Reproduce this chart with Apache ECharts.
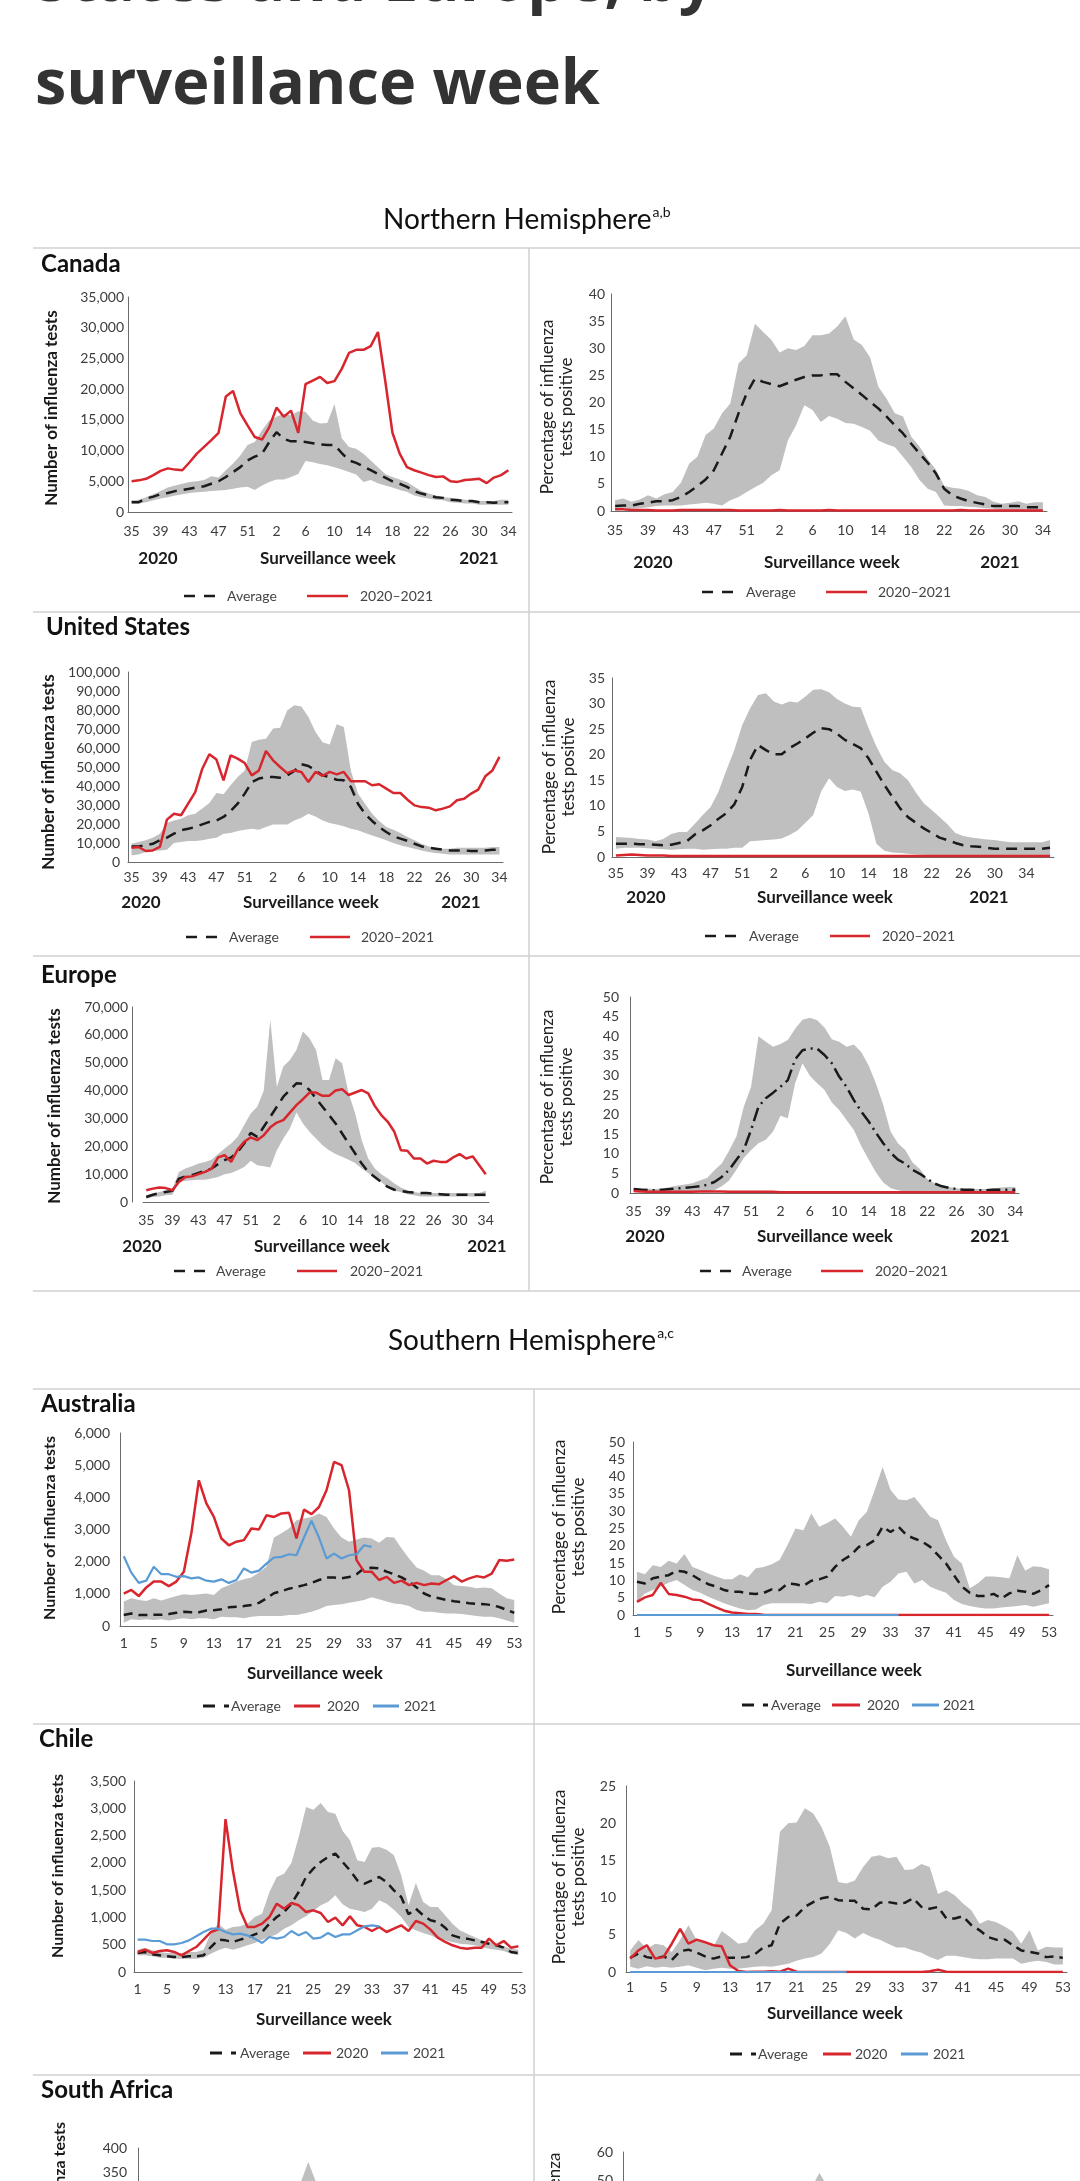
<!DOCTYPE html>
<html><head><meta charset="utf-8">
<script src="https://cdn.jsdelivr.net/npm/echarts@6.0.0/dist/echarts.min.js"></script>
<style>html,body{margin:0;padding:0;background:#fff}#main{width:1080px;height:2181px}</style>
</head><body><div id="main"></div>
<script>
// ---------- categories (surveillance weeks) ----------
const weeksN = [35,36,37,38,39,40,41,42,43,44,45,46,47,48,49,50,51,52,53,1,2,3,4,5,6,7,8,9,10,11,12,13,14,15,16,17,18,19,20,21,22,23,24,25,26,27,28,29,30,31,32,33,34];
const weeksUS = [35,36,37,38,39,40,41,42,43,44,45,46,47,48,49,50,51,52,53,1,2,3,4,5,6,7,8,9,10,11,12,13,14,15,16,17,18,19,20,21,22,23,24,25,26,27,28,29,30,31,32,33,34,35,36,37];
const weeksS = [1,2,3,4,5,6,7,8,9,10,11,12,13,14,15,16,17,18,19,20,21,22,23,24,25,26,27,28,29,30,31,32,33,34,35,36,37,38,39,40,41,42,43,44,45,46,47,48,49,50,51,52,53];

// ---------- Canada ----------
const canNumAvg = [1600,1600,2200,2500,2900,3100,3400,3600,3800,4000,4200,4600,5000,5700,6500,7300,8400,9000,9500,11400,13000,11900,11500,11500,11400,11200,11000,10900,10900,9600,8400,8000,7400,6800,6200,5600,5000,4600,4100,3400,3000,2700,2400,2300,2000,1900,1800,1800,1600,1600,1500,1600,1600];
const canNumLow = [1400,1400,1600,1900,2200,2400,2700,2900,3100,3200,3300,3400,3500,3600,3800,4000,4100,3600,4300,4900,5300,5300,5700,6200,8300,8100,7800,7600,7300,6900,6500,6100,4900,5200,4700,4300,4000,3600,3300,2700,2400,2200,2000,1900,1600,1500,1400,1400,1200,1200,1200,1200,1200];
const canNumHigh = [1900,2000,2400,2900,3400,4000,4300,4600,4900,5000,5200,5800,5600,6800,7900,9200,10900,11400,13300,14900,15500,16000,15700,16400,16300,14900,14400,14500,17600,12000,10600,10300,9500,8400,7300,6200,5700,5300,4900,4100,3400,3000,2700,2400,2300,2200,2000,1900,1800,1800,1800,2000,2000];
const canNum2021 = [5000,5150,5400,6000,6700,7100,6900,6800,8100,9500,10600,11700,12900,18800,19700,16100,14100,12200,11800,13800,17000,15500,16500,12900,20800,21400,22000,21000,21300,23300,25900,26400,26400,27000,29300,21400,12900,9500,7300,6800,6400,6000,5700,5800,5000,4900,5200,5300,5400,4700,5600,6000,6800];
const canPctAvg = [0.9,1.0,1.0,1.35,1.5,1.8,1.8,2.0,2.6,3.5,4.6,5.8,7.5,10.6,13.7,18.0,21.7,24.4,23.8,23.4,23.0,23.6,24.2,24.7,25.0,25.0,25.2,25.2,23.8,22.6,21.4,20.1,18.9,17.4,15.8,14.3,12.4,10.6,8.9,6.9,4.1,2.9,2.3,1.8,1.5,1.2,0.9,0.9,0.9,0.9,0.7,0.7,0.7];
const canPctLow = [0.1,0.25,0.4,0.5,0.7,0.9,1.0,1.0,1.0,1.2,1.35,1.5,1.35,1.0,2.0,2.6,3.5,4.4,5.2,6.6,7.5,13.0,15.8,19.5,18.6,16.4,17.5,17.0,16.2,16.1,15.5,14.8,13.0,12.3,11.8,10.0,8.1,5.7,4.1,3.5,1.0,0.9,0.9,0.8,0.7,0.5,0.4,0.25,0.25,0.25,0.25,0.25,0.1];
const canPctHigh = [2.0,2.3,1.7,2.1,2.9,2.3,3.1,3.5,5.2,8.7,10.0,14.0,15.2,18.0,19.8,27.2,28.7,34.5,33.0,31.5,29.2,30.0,29.7,30.4,32.4,32.4,32.7,34.0,35.9,31.6,30.6,28.3,22.9,20.7,18.0,17.4,13.7,11.9,9.6,7.6,4.6,4.3,4.1,3.7,2.9,2.6,1.7,1.35,1.5,1.8,1.35,1.6,1.6];
const canPct2021 = [0.3,0.3,0.2,0.2,0.2,0.1,0.1,0.1,0.2,0.2,0.2,0.2,0.2,0.2,0.2,0.1,0.1,0.1,0.1,0.1,0.2,0.1,0.1,0.1,0.1,0.1,0.2,0.1,0.1,0.1,0.1,0.1,0.1,0.1,0.1,0.1,0.1,0.1,0.1,0.1,0.1,0.1,0.2,0.1,0.1,0.1,0.1,0.1,0.1,0.1,0.1,0.1,0.1];

// ---------- United States ----------
const usNumAvg = [8200,8200,8800,9600,11400,12800,14900,16700,17500,18400,19800,21100,21900,23700,26800,30700,36000,42100,43900,44700,44700,44400,45600,47900,51500,50500,48200,45600,44700,43300,43000,39500,30700,25400,21600,18400,15800,13500,12300,11100,9600,8200,7500,7000,6500,6100,6100,6100,5800,5800,6100,6500,6500];
const usNumLow = [3500,4000,5300,5800,6100,6500,10000,10500,11100,11100,11400,12300,12800,14900,15300,16300,17000,17500,17000,18400,19800,19800,19800,21900,23300,25400,24000,21900,20500,19800,18800,17500,16700,15300,14000,12800,11400,10000,8800,7900,7000,6100,5300,4700,4400,4000,4000,4000,4000,4000,4000,4000,4000];
const usNumHigh = [9600,10500,11400,12800,14900,20500,21900,22800,24600,25400,28100,31100,36300,35600,40400,44700,48200,63200,64400,64900,70200,70700,79800,82500,81900,76300,68400,63000,61900,72500,71100,48000,36000,30700,25400,21600,18400,17000,15300,13200,11400,9600,8200,7500,7000,7000,7500,7500,7500,7500,7500,7900,7900];
const usNum2021 = [7500,7900,5800,6100,7900,22300,25400,24600,30700,36800,49100,56700,53900,43000,56100,54400,52100,45600,48200,58400,53500,50000,46800,48200,47400,42100,47400,45300,47400,46100,47400,42500,42500,42500,40400,40900,38600,36300,36300,32800,29800,28900,28600,27200,28100,29300,32500,33300,36000,38100,45100,48200,55300];
const usPctAvg = [2.6,2.6,2.6,2.5,2.5,2.4,2.3,2.4,2.75,3.1,4.4,5.2,6.2,7.5,8.6,10.3,13.7,19.0,21.9,20.9,20.1,20.1,21.3,22.2,23.2,24.3,25.2,25.0,24.1,22.9,22.1,21.3,19.3,16.7,14.1,11.8,9.5,7.8,6.7,5.6,4.7,3.8,3.3,2.75,2.3,2.1,2.0,1.8,1.6,1.6,1.6,1.6,1.6,1.6,1.6,1.8];
const usPctLow = [1.6,1.8,1.8,1.8,1.7,1.6,1.5,1.4,1.5,1.6,1.6,1.4,1.5,1.6,1.6,1.8,1.8,3.1,3.2,3.3,3.4,3.6,4.3,5.2,6.7,8.2,12.8,15.4,13.7,12.9,13.2,12.8,8.5,2.6,1.2,0.9,0.8,0.65,0.5,0.45,0.4,0.3,0.3,0.3,0.3,0.3,0.3,0.3,0.3,0.3,0.3,0.3,0.3,0.3,0.3,0.3];
const usPctHigh = [3.9,3.8,3.7,3.5,3.4,3.1,3.5,4.5,4.9,4.9,6.5,8.2,9.8,12.8,17.0,20.9,25.8,29.1,31.7,32.0,30.4,29.8,30.4,30.2,31.4,32.7,32.8,32.2,30.9,30.0,29.4,29.3,25.2,21.6,18.6,17.0,16.4,15.0,12.6,10.5,9.2,7.8,6.4,4.7,4.1,3.8,3.6,3.4,3.3,3.1,2.9,2.9,2.9,2.9,2.9,3.3];
const usPct2021 = [0.3,0.4,0.5,0.4,0.3,0.3,0.3,0.2,0.2,0.2,0.2,0.2,0.2,0.2,0.2,0.2,0.2,0.2,0.2,0.2,0.2,0.2,0.2,0.2,0.2,0.2,0.2,0.2,0.2,0.2,0.2,0.2,0.2,0.2,0.2,0.2,0.2,0.2,0.2,0.2,0.2,0.2,0.2,0.2,0.2,0.2,0.2,0.2,0.2,0.2,0.2,0.2,0.2,0.2,0.2,0.2];

// ---------- Europe ----------
const euNumAvg = [1800,2600,3200,3600,4000,8400,9200,9600,10400,11200,12000,13600,15000,16000,18000,21000,24800,23400,27000,30600,34200,37800,40200,42600,42400,40200,37200,34200,31200,28200,24600,21000,17400,13800,10800,9000,7200,5400,4400,4000,3600,3400,3200,3200,3000,2800,2600,2600,2600,2600,2600,2600,2600];
const euNumLow = [1200,1800,2000,2400,2600,7200,7600,7800,8000,8000,8400,9000,10000,10400,11400,12600,14800,13200,12800,12400,18600,22800,26400,32100,28200,25200,22800,20400,18600,17200,16200,15200,14000,12000,10400,8400,7200,5000,4000,3600,2800,2400,2000,2000,2000,2000,2000,2000,2000,2000,2000,2000,2000];
const euNumHigh = [2400,3000,3600,4200,4800,10800,12000,12800,13800,14400,15200,17200,19200,21000,23400,27600,31800,34200,40000,65400,41400,48600,51000,54600,61200,58800,54600,43800,43800,51600,49800,39000,31800,22200,15600,12000,10000,8400,6600,5200,4200,3600,3200,3200,3200,3200,3200,3200,3200,3200,3200,3200,4000];
const euNum2021 = [4200,4800,5200,5000,4200,7200,9000,9200,10000,10800,12000,16000,16800,14400,18800,21600,23200,22200,24000,26800,28500,29400,32100,34800,36900,39300,39300,38100,38100,40000,40500,38400,39300,40200,39000,34500,31200,28800,25200,18600,18400,15600,15600,13800,14800,14400,14400,16000,17200,15600,16400,13200,10000];
const euPctAvg = [1.0,0.85,0.76,0.7,0.85,1.0,1.2,1.3,1.5,1.7,2.1,2.8,4.1,5.9,8.5,11.0,16.1,22.0,24.2,25.6,27.1,28.8,34.1,36.4,36.9,36.8,35.2,33.1,29.7,27.1,23.7,20.8,18.3,15.4,12.7,10.3,8.5,7.5,5.9,4.9,3.6,2.4,1.7,1.3,1.0,0.85,0.8,0.7,0.7,0.85,0.85,0.85,0.85];
const euPctLow = [0.2,0.2,0.2,0.2,0.2,0.2,0.2,0.2,0.2,0.2,0.25,0.7,1.7,3.2,5.9,8.9,11.0,12.7,13.6,15.7,19.7,19.1,28.0,33.1,29.9,28.0,26.3,23.1,21.2,18.6,16.1,12.0,8.6,5.3,2.7,1.3,0.7,0.4,0.2,0.2,0.2,0.2,0.2,0.2,0.2,0.2,0.2,0.2,0.2,0.2,0.2,0.2,0.2];
const euPctHigh = [1.3,1.3,1.1,1.0,1.2,1.5,1.9,2.2,2.5,3.2,3.8,5.8,7.5,10.8,14.4,22.0,27.1,40.0,38.6,37.3,38.0,39.0,41.9,44.2,44.7,44.1,42.2,39.2,38.6,37.3,37.9,36.0,32.6,28.0,22.5,15.7,12.7,11.0,7.8,6.1,3.6,2.5,1.9,1.5,1.2,1.0,1.0,1.0,1.0,1.2,1.4,1.5,1.5];
const euPct2021 = [0.5,0.4,0.3,0.3,0.3,0.3,0.3,0.3,0.3,0.4,0.4,0.4,0.4,0.3,0.3,0.3,0.3,0.3,0.3,0.3,0.2,0.2,0.2,0.2,0.2,0.2,0.2,0.2,0.2,0.2,0.2,0.2,0.2,0.2,0.2,0.2,0.2,0.2,0.2,0.2,0.2,0.2,0.2,0.2,0.2,0.2,0.2,0.2,0.2,0.2,0.2,0.2,0.2];

// ---------- Australia ----------
const ausNumAvg = [340,390,340,340,350,350,370,410,440,430,430,480,490,520,580,600,620,650,720,860,1020,1080,1160,1210,1270,1340,1430,1510,1510,1480,1520,1610,1790,1810,1790,1690,1610,1510,1380,1200,1010,910,860,810,770,740,710,690,680,650,590,500,410];
const ausNumLow = [100,210,190,210,190,210,170,210,240,210,240,240,210,290,270,270,240,290,310,310,310,310,340,340,390,440,520,620,650,680,720,760,810,890,830,760,700,680,620,500,440,440,410,390,390,370,340,310,290,290,240,170,100];
const ausNumHigh = [760,860,810,780,860,790,860,930,990,960,990,1010,960,1170,1270,1380,1450,1510,1660,1840,2750,2880,3030,3290,3340,3390,3500,3390,3030,2750,2620,2690,2750,2720,2590,2770,2750,2410,2100,1820,1720,1580,1580,1450,1270,1240,1220,1170,1200,1170,1010,860,810];
const ausNum2020 = [1010,1120,930,1200,1380,1380,1240,1380,1690,2880,4530,3810,3390,2720,2510,2620,2670,3030,3000,3440,3390,3500,3520,2720,3620,3480,3700,4220,5100,5000,4220,2050,1690,1690,1430,1530,1340,1410,1270,1340,1270,1320,1300,1430,1550,1380,1480,1550,1510,1630,2050,2030,2070];
const ausNum2021 = [2170,1660,1340,1410,1840,1610,1610,1530,1550,1480,1510,1410,1380,1450,1340,1430,1790,1660,1720,1940,2130,2150,2230,2200,2750,3270,2750,2100,2250,2100,2200,2230,2510,2460];
const ausPctAvg = [9.6,9.1,10.6,11.1,11.5,12.8,12.5,11.5,10.1,8.9,8.2,7.2,6.7,6.7,6.25,6.1,6.4,7.4,7.2,9.1,8.9,8.4,9.9,10.3,11.1,13.9,15.9,17.3,19.7,20.2,21.6,25.5,24.0,25.5,23.1,22.1,21.2,19.7,17.3,14.9,11.5,8.2,6.4,5.5,5.5,6.1,4.8,6.25,7.0,6.7,6.1,7.2,8.65];
const ausPctLow = [3.8,6.25,7.2,8.2,9.3,10.1,8.65,7.2,6.4,5.3,4.3,3.4,2.6,1.9,1.4,1.6,2.9,3.4,3.4,3.4,3.4,3.4,3.2,3.8,3.4,5.5,5.3,5.8,5.1,5.8,5.1,8.2,9.6,12.0,12.5,9.1,10.1,8.2,7.2,6.4,4.3,3.2,2.6,2.2,1.9,1.9,2.2,2.4,2.6,2.9,2.4,2.9,3.4];
const ausPctHigh = [12.5,11.8,14.4,13.9,15.7,14.9,17.6,13.9,13.0,12.0,11.1,10.3,10.3,11.8,10.9,13.5,13.9,14.7,15.9,20.2,25.0,24.5,29.3,25.5,26.6,27.9,25.5,22.6,27.4,29.8,36.1,42.8,36.1,33.4,33.2,34.1,31.3,28.4,27.4,21.6,16.8,14.9,7.7,9.1,11.1,11.1,10.9,10.6,17.3,12.8,14.1,13.9,13.2];
const ausPct2020 = [3.8,5.1,5.8,9.3,6.1,5.8,5.3,4.5,4.3,3.2,2.2,1.25,0.7,0.5,0.3,0.3,0.1,0,0,0,0,0,0,0,0,0,0,0,0,0,0,0,0,0,0,0,0,0,0,0,0,0,0,0,0,0,0,0,0,0,0,0,0];
const ausPct2021 = [0,0,0,0,0,0,0,0,0,0,0,0,0,0,0,0,0,0,0,0,0,0,0,0,0,0,0,0,0,0,0,0,0,0];

// ---------- Chile ----------
const chNumAvg = [348,367,324,305,287,275,275,287,287,305,458,593,580,550,593,629,690,733,886,1008,1100,1252,1466,1741,1894,2016,2108,2169,2016,1863,1680,1619,1680,1741,1649,1497,1374,1057,1161,1039,947,916,812,672,629,611,580,550,519,489,446,367,348];
const chNumLow = [305,305,287,263,263,244,244,244,244,263,336,397,446,409,446,489,531,593,641,690,794,855,947,1020,1118,1222,1283,1405,1240,1161,1130,1100,1161,1313,1252,1142,1008,825,764,715,672,611,580,550,519,507,489,458,428,409,385,336,305];
const chNumHigh = [409,446,397,367,348,348,348,367,367,409,715,886,776,825,837,886,1008,1069,1466,1741,1802,1997,2474,3024,2975,3097,2932,2902,2584,2413,2046,2016,2279,2291,2242,2138,1772,1222,1631,1283,1191,1191,1039,886,764,703,641,580,550,519,470,428,409];
const chNum2020 = [367,409,348,385,397,367,305,385,458,593,733,780,2800,1863,1130,825,825,886,1008,1252,1161,1264,1222,1100,1130,1081,916,996,855,1020,855,825,751,825,733,794,855,751,935,886,776,629,550,489,446,428,446,446,611,489,568,446,470];
const chNum2021 = [593,593,568,568,507,507,531,580,654,733,794,794,733,690,703,672,611,531,641,611,641,751,672,733,611,629,715,641,690,690,764,837,855,837];
const chPctAvg = [1.9,2.5,2.0,1.8,2.1,1.6,2.8,3.0,2.6,2.1,1.8,2.1,1.9,1.9,2.0,2.4,3.3,3.6,6.5,7.4,7.6,8.75,9.4,9.9,10.1,9.65,9.56,9.56,8.5,8.4,9.3,9.4,9.2,9.3,9.9,8.75,8.5,8.75,7.2,7.2,7.5,6.3,5.6,4.7,4.35,4.35,3.6,2.9,2.7,2.5,2.0,2.1,1.9];
const chPctLow = [0.7,0.45,0.76,0.58,0.7,0.58,0.7,0.9,0.58,0.22,0.45,0.58,0.45,0.45,0.58,0.7,0.76,0.7,0.9,1.1,1.5,1.8,2.0,2.5,3.8,5.6,5.25,4.5,5.25,4.7,4.35,3.8,3.3,3.3,2.9,2.6,2.0,1.6,2.2,2.2,2.0,1.8,1.7,1.7,1.8,1.8,1.8,1.1,1.35,1.5,1.35,1.0,1.0];
const chPctHigh = [2.9,4.3,3.1,3.8,3.6,2.7,4.3,6.3,4.3,3.8,3.4,5.5,4.7,3.8,4.0,5.6,6.5,8.3,18.85,20.0,20.1,22.0,21.3,19.5,16.8,12.1,11.9,12.3,14.1,15.5,15.7,15.3,15.5,13.7,13.8,14.5,14.1,10.5,11.0,10.3,9.2,8.3,6.5,7.0,6.7,6.1,5.4,3.8,5.6,2.9,3.4,3.3,3.3];
const chPct2020 = [1.8,2.9,3.6,1.8,2.0,3.8,5.8,3.8,4.35,4.0,3.6,3.45,0.9,0.13,0,0.05,0.05,0.1,0.05,0.45,0.05,0,0,0,0,0,0,0,0,0,0,0,0,0,0,0,0.1,0.3,0.05,0,0,0,0,0,0,0,0,0,0,0,0,0,0];
const chPct2021 = [0,0,0,0,0,0,0,0,0,0,0,0,0,0,0,0,0,0,0,0,0,0,0,0,0,0,0];

// ---------- South Africa (only the top of the panel is in view) ----------
const saNumLow = [null,null,null,null,null,null,null,null,null,null,null,null,null,null,null,null,null,null,null,null,null,null,200,200,200,null,null,null,null,null,null,null,null,null,null,null,null,null,null,null,null,null,null,null,null,null,null,null,null,null,null,null,null];
const saNumHigh = [null,null,null,null,null,null,null,null,null,null,null,null,null,null,null,null,null,null,null,null,null,null,330,371,332,null,null,null,null,null,null,null,null,null,null,null,null,null,null,null,null,null,null,null,null,null,null,null,null,null,null,null,null];
const saPctLow = [null,null,null,null,null,null,null,null,null,null,null,null,null,null,null,null,null,null,null,null,null,null,20,20,20,null,null,null,null,null,null,null,null,null,null,null,null,null,null,null,null,null,null,null,null,null,null,null,null,null,null,null,null];
const saPctHigh = [null,null,null,null,null,null,null,null,null,null,null,null,null,null,null,null,null,null,null,null,null,null,47,52.5,47.5,null,null,null,null,null,null,null,null,null,null,null,null,null,null,null,null,null,null,null,null,null,null,null,null,null,null,null,null];

// ---------- styling ----------
const FONT = 'Lato, "Noto Sans", sans-serif';
const RED = '#d7262e', BLUE = '#5b9bd5', BAND = '#bfbfbf', AVG = '#1a1a1a', AXIS = '#6b6b6b', LBL = '#3c3c3c', DIV = '#d0d0d0';

const panels = [
  {left:128, top:297, width:384, height:215, cats:weeksN, max:35000, step:5000, comma:true, ym:4, xm:12, avg:canNumAvg, low:canNumLow, high:canNumHigh, red:canNum2021},
  {left:611, top:294, width:436, height:217, cats:weeksN, max:40, step:5, ym:6, xm:12, avg:canPctAvg, low:canPctLow, high:canPctHigh, red:canPct2021},
  {left:128, top:672, width:375, height:190, cats:weeksN, max:100000, step:10000, comma:true, ym:8, xm:8, avg:usNumAvg, low:usNumLow, high:usNumHigh, red:usNum2021},
  {left:612, top:678, width:442, height:179, cats:weeksUS, max:35, step:5, ym:7, xm:9, avg:usPctAvg, low:usPctLow, high:usPctHigh, red:usPct2021},
  {left:143, top:1007, width:346, height:195, cats:weeksN, max:70000, step:10000, comma:true, yoff:11, ym:4, xm:11, avg:euNumAvg, low:euNumLow, high:euNumHigh, red:euNum2021},
  {left:630, top:997, width:389, height:196, cats:weeksN, max:50, step:5, ym:11, xm:11, avg:euPctAvg, low:euPctLow, high:euPctHigh, red:euPct2021, dash:[14,5,2,5]},
  {left:120, top:1433, width:398, height:193, cats:weeksS, max:6000, step:1000, comma:true, ym:10, xm:10, avg:ausNumAvg, low:ausNumLow, high:ausNumHigh, red:ausNum2020, blue:ausNum2021, dash:[9,6]},
  {left:633, top:1442, width:420, height:173, cats:weeksS, max:50, step:5, ym:8, xm:10, avg:ausPctAvg, low:ausPctLow, high:ausPctHigh, red:ausPct2020, blue:ausPct2021, dash:[9,6]},
  {left:134, top:1781, width:388, height:191, cats:weeksS, max:3500, step:500, comma:true, ym:8, xm:10, avg:chNumAvg, low:chNumLow, high:chNumHigh, red:chNum2020, blue:chNum2021, dash:[9,6]},
  {left:626, top:1786, width:441, height:186, cats:weeksS, max:25, step:5, ym:10, xm:8, avg:chPctAvg, low:chPctLow, high:chPctHigh, red:chPct2020, blue:chPct2021, dash:[9,6]},
  {left:138, top:2148, width:384, height:192, cats:weeksS, max:400, step:50, ym:11, xm:10, low:saNumLow, high:saNumHigh},
  {left:623, top:2152, width:443, height:168, cats:weeksS, max:60, step:10, ym:10, xm:10, low:saPctLow, high:saPctHigh}
];

const grid = [], xAxis = [], yAxis = [], series = [];
panels.forEach((p, i) => {
  grid.push({left:p.left, top:p.top, width:p.width, height:p.height, containLabel:false, outerBoundsMode:'none'});
  xAxis.push({type:'category', gridIndex:i, data:p.cats, boundaryGap:true,
    axisLine:{show:true, lineStyle:{color:AXIS, width:1}}, axisTick:{show:false}, splitLine:{show:false},
    axisLabel:{interval:3, margin:p.xm, color:LBL, fontSize:14, fontFamily:FONT}});
  yAxis.push({type:'value', gridIndex:i, min:0, max:p.max, interval:p.step, offset:p.yoff||0,
    axisLine:{show:true, lineStyle:{color:AXIS, width:1}}, axisTick:{show:false}, splitLine:{show:false},
    axisLabel:{margin:p.ym, color:LBL, fontSize:14, fontFamily:FONT,
      formatter: p.comma ? (v => v.toLocaleString('en-US')) : (v => String(v))}});
  const base = {type:'line', xAxisIndex:i, yAxisIndex:i, symbol:'none', silent:true, animation:false};
  series.push(Object.assign({}, base, {name:'low'+i, stack:'band'+i, data:p.low, lineStyle:{opacity:0}}));
  series.push(Object.assign({}, base, {name:'range'+i, stack:'band'+i,
    data:p.high.map((h, k) => (h == null || p.low[k] == null) ? null : +(h - p.low[k]).toFixed(3)),
    lineStyle:{opacity:0}, areaStyle:{color:BAND, opacity:1}}));
  if (p.avg) series.push(Object.assign({}, base, {name:'Average', data:p.avg, lineStyle:{color:AVG, width:2.5, type:p.dash || [11,7]}}));
  if (p.red) series.push(Object.assign({}, base, {name:'red'+i, data:p.red, lineStyle:{color:RED, width:2.5}}));
  if (p.blue) series.push(Object.assign({}, base, {name:'blue'+i, data:p.blue, lineStyle:{color:BLUE, width:2.2}}));
});

// ---------- text, dividers and legends ----------
const G = [];
function txt(t, x, y, o) {
  o = o || {};
  G.push({type:'text', x:x, y:y, rotation:o.rot || 0, silent:true, z:10,
    style:{text:t, fill:o.fill || '#1a1a1a', fontSize:o.size || 14, fontFamily:o.family || FONT,
      fontWeight:o.weight || 'normal', align:o.align || 'left', verticalAlign:o.va || 'middle', lineHeight:o.lh}});
}
function ln(x1, y1, x2, y2, color, w, dash) {
  G.push({type:'line', silent:true, z:10, shape:{x1:x1, y1:y1, x2:x2, y2:y2},
    style:{stroke:color, lineWidth:w, lineDash:dash || null}});
}
function measure(t, font) { const c = document.createElement('canvas').getContext('2d'); c.font = font; return c.measureText(t).width; }

// title
txt('States and Europe, by', 35, -17, {size:63, weight:'bold', family:'"Open Sans", sans-serif', fill:'#333'});
txt('surveillance week', 35, 86, {size:63, weight:'bold', family:'"Open Sans", sans-serif', fill:'#333'});

// hemisphere headers
function header(t, sup, x, y) {
  txt(t, x, y, {size:28, fill:'#111'});
  const w = measure(t, '28px Lato');
  txt(sup, x + w + 1, y - 8, {size:14, fill:'#111'});
}
header('Northern Hemisphere', 'a,b', 383, 220);
header('Southern Hemisphere', 'a,c', 388, 1341);

// dividers
[248, 612, 956, 1291, 1389, 1724, 2075].forEach(y => ln(33, y, 1080, y, DIV, 1.5));
ln(529, 248, 529, 1291, DIV, 1.5);
ln(534, 1389, 534, 2181, DIV, 1.5);

// country names
[['Canada', 41, 264], ['United States', 46, 627], ['Europe', 41, 975], ['Australia', 41, 1404], ['Chile', 39, 1739], ['South Africa', 41, 2090]]
  .forEach(c => txt(c[0], c[1], c[2], {size:24, weight:'bold', fill:'#111'}));

// y axis titles
const R90 = Math.PI / 2;
[[52, 408, 17], [49, 772, 17], [55, 1106, 17], [50, 1528, 16], [58, 1866, 16]]
  .forEach(a => txt('Number of influenza tests', a[0], a[1], {size:a[2], weight:'bold', rot:R90, align:'center'}));
txt('Number of influenza tests', 60, 2122, {size:16, weight:'bold', rot:R90, align:'right'});
[[557, 407], [559, 767], [557, 1097], [569, 1527], [569, 1877], [564, 2240]]
  .forEach(a => txt('Percentage of influenza\ntests positive', a[0], a[1], {size:17, rot:R90, align:'center', lh:19.5, fill:'#222'}));

// x axis captions
function xcap(y, a, b, c) {
  if (a != null) txt('2020', a, y, {size:17, weight:'bold', align:'center'});
  txt('Surveillance week', b, y, {size:17, weight:'bold', align:'center'});
  if (c != null) txt('2021', c, y, {size:17, weight:'bold', align:'center'});
}
xcap(559, 158, 328, 479);
xcap(563, 653, 832, 1000);
xcap(903, 141, 311, 461);
xcap(898, 646, 825, 989);
xcap(1247, 142, 322, 487);
xcap(1237, 645, 825, 990);
xcap(1674, null, 315, null);
xcap(1671, null, 854, null);
xcap(2020, null, 324, null);
xcap(2014, null, 835, null);

// legends (northern style)
function legN(y, dx, tx, r1, r2, rt) {
  ln(dx, y, dx + 11, y, AVG, 2.5); ln(dx + 20, y, dx + 31, y, AVG, 2.5);
  txt('Average', tx, y, {fill:'#444'});
  ln(r1, y, r2, y, RED, 2.5);
  txt('2020\u20132021', rt, y, {fill:'#444'});
}
legN(596, 184, 227, 307, 348, 360);
legN(592, 702, 746, 826, 867, 878);
legN(937, 186, 229, 310, 350, 361);
legN(936, 705, 749, 830, 870, 882);
legN(1271, 174, 216, 297, 337, 350);
legN(1271, 700, 742, 821, 863, 875);
// legends (southern style)
function legS(y, dx, tx, r1, r2, rt, b1, b2, bt) {
  ln(dx, y, dx + 12, y, AVG, 3); ln(dx + 21, y, dx + 26, y, AVG, 3);
  txt('Average', tx, y, {fill:'#444'});
  ln(r1, y, r2, y, RED, 3); txt('2020', rt, y, {fill:'#444'});
  ln(b1, y, b2, y, BLUE, 3); txt('2021', bt, y, {fill:'#444'});
}
legS(1706, 203, 231, 294, 320, 327, 373, 399, 404);
legS(1705, 742, 771, 832, 860, 867, 912, 939, 943);
legS(2053, 210, 240, 303, 331, 336, 381, 408, 413);
legS(2054, 730, 758, 823, 851, 855, 901, 928, 933);

const chart = echarts.init(document.getElementById('main'), null, {renderer:'canvas', width:1080, height:2181});
chart.setOption({animation:false, backgroundColor:'#fff', grid:grid, xAxis:xAxis, yAxis:yAxis, series:series, graphic:{elements:G}});
</script></body></html>
